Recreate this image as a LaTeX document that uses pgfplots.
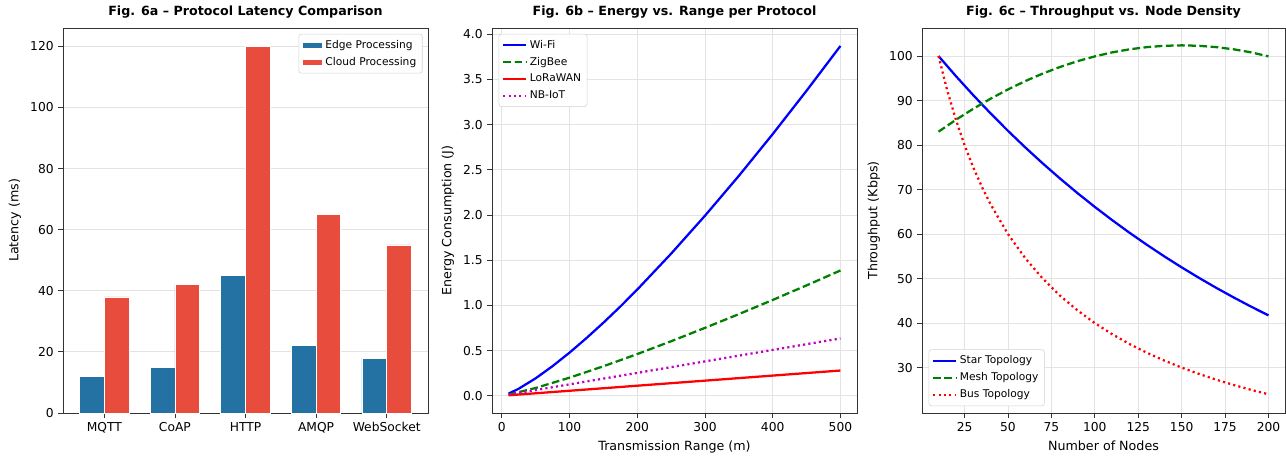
\documentclass[border=0pt]{standalone}
\usepackage{fontspec}
\setmainfont{DejaVu Sans}
\usepackage{pgfplots}
\pgfplotsset{compat=1.18}

\definecolor{edgeblue}{HTML}{2471A3}
\definecolor{cloudred}{HTML}{E74C3C}
\definecolor{mplgreen}{RGB}{0,128,0}
\definecolor{mplmag}{RGB}{191,0,191}

\pgfplotsset{
  panel/.style={
    scale only axis,
    width=273.75pt, height=288.75pt,
    anchor=south west,
    /pgf/number format/assume math mode=true,
    tick label style={font=\fontsize{9.2}{10}\selectfont},
    label style={font=\fontsize{9.5}{11}\selectfont},
    title style={font=\fontsize{9.5}{11}\selectfont\bfseries, yshift=-2pt},
    tick align=outside,
    xtick pos=bottom, ytick pos=left,
    major tick length=3.5pt,
    tick style={black!80, line width=0.6pt},
    axis line style={black!80, line width=0.7pt},
    grid style={gray!22, line width=0.6pt},
    minor tick num=0,
    legend style={font=\fontsize{8}{9}\selectfont, draw=gray!35, rounded corners=2pt,
      fill=white, row sep=1.2pt, inner sep=2.5pt},
    legend cell align=left,
  },
  dashg/.style={dash pattern=on 5.8pt off 2.6pt},
  dotm/.style={dash pattern=on 1.6pt off 2.4pt},
}

\begin{document}
\begin{tikzpicture}
\path[use as bounding box] (0,0) rectangle (964.5pt,-342pt);

% ---------------- Fig. 6a
\begin{axis}[panel,
  at={(47.25pt,-309.75pt)},
  title={Fig. 6a – Protocol Latency Comparison},
  ylabel={Latency (ms)},
  xmin=-0.585, xmax=4.585,
  ymin=0, ymax=126,
  xtick={0,1,2,3,4},
  xticklabels={MQTT,CoAP,HTTP,AMQP,WebSocket},
  ytick={0,20,40,60,80,100,120},
  ymajorgrids=true,
  ybar, bar width=0.35, bar shift=0pt,
  legend style={at={(0.985,0.985)}, anchor=north east},
  legend image code/.code={\fill[#1, sharp corners] (0pt,-2.4pt) rectangle (15pt,2.4pt);},
]
\addplot[fill=edgeblue, draw=white, line width=0.5pt] coordinates {
  (-0.175,12) (0.825,15) (1.825,45) (2.825,22) (3.825,18)
};
\addplot[fill=cloudred, draw=white, line width=0.5pt] coordinates {
  (0.175,38) (1.175,42) (2.175,120) (3.175,65) (4.175,55)
};
\legend{Edge Processing, Cloud Processing}
\end{axis}

% ---------------- Fig. 6b
\begin{axis}[panel,
  at={(369pt,-309.75pt)},
  title={Fig. 6b – Energy vs. Range per Protocol},
  xlabel={Transmission Range (m)},
  ylabel={Energy Consumption (J)},
  xmin=-14.5, xmax=524.5,
  ymin=-0.19, ymax=4.07,
  xtick={0,100,200,300,400,500},
  ytick={0,0.5,1,1.5,2,2.5,3,3.5,4},
  yticklabel style={/pgf/number format/.cd, fixed, fixed zerofill, precision=1},
  grid=major,
  legend style={at={(0.018,0.985)}, anchor=north west},
]
\addplot[blue, line width=1.7pt] coordinates {
  (10,0.024) (25,0.079) (50,0.194) (75,0.329) (100,0.478) (125,0.639)
  (150,0.809) (175,0.988) (200,1.176) (250,1.573) (300,1.993) (350,2.434)
  (400,2.896) (450,3.376) (500,3.871)
};
\addplot[mplgreen, line width=1.7pt, dashg] coordinates {
  (10,0.013) (50,0.087) (100,0.201) (150,0.327) (200,0.462) (250,0.604)
  (300,0.752) (350,0.904) (400,1.061) (450,1.222) (500,1.387)
};
\addplot[red, line width=1.7pt] coordinates {
  (10,0.006) (100,0.056) (200,0.112) (300,0.168) (400,0.224) (500,0.280)
};
\addplot[mplmag, line width=1.7pt, dotm] coordinates {
  (10,0.013) (100,0.127) (200,0.254) (300,0.381) (400,0.508) (500,0.635)
};
\legend{Wi-Fi, ZigBee, LoRaWAN, NB-IoT}
\end{axis}

% ---------------- Fig. 6c
\begin{axis}[panel,
  at={(691.5pt,-309.75pt)},
  width=272.25pt,
  title={Fig. 6c – Throughput vs. Node Density},
  xlabel={Number of Nodes},
  ylabel={Throughput (Kbps)},
  xmin=0.5, xmax=209.5,
  ymin=19.8, ymax=106.3,
  xtick={25,50,75,100,125,150,175,200},
  ytick={30,40,50,60,70,80,90,100},
  grid=major,
  legend style={at={(0.018,0.018)}, anchor=south west},
]
\addplot[blue, line width=1.7pt] coordinates {
  (10,100) (20,95.50) (30,91.21) (40,87.11) (50,83.19) (60,79.45) (70,75.88)
  (80,72.47) (90,69.21) (100,66.10) (110,63.13) (120,60.29) (130,57.58)
  (140,54.99) (150,52.52) (160,50.16) (170,47.90) (180,45.75) (190,43.69)
  (200,41.73)
};
\addplot[mplgreen, line width=1.7pt, dashg] coordinates {
  (10,83.00) (20,85.67) (30,88.14) (40,90.42) (50,92.50) (60,94.38) (70,96.06)
  (80,97.55) (90,98.84) (100,99.92) (110,100.82) (120,101.51) (130,102.00)
  (140,102.30) (150,102.40) (160,102.30) (170,102.00) (180,101.51)
  (190,100.82) (200,99.92)
};
\addplot[red, line width=1.7pt, dotm] coordinates {
  (10,100) (15,92.31) (20,85.71) (25,80) (30,75) (35,70.59) (40,66.67)
  (50,60) (60,54.55) (70,50) (80,46.15) (90,42.86) (100,40) (110,37.5)
  (120,35.29) (130,33.33) (140,31.58) (150,30) (160,28.57) (170,27.27)
  (180,26.09) (190,25) (200,24)
};
\legend{Star Topology, Mesh Topology, Bus Topology}
\end{axis}
\end{tikzpicture}
\end{document}
